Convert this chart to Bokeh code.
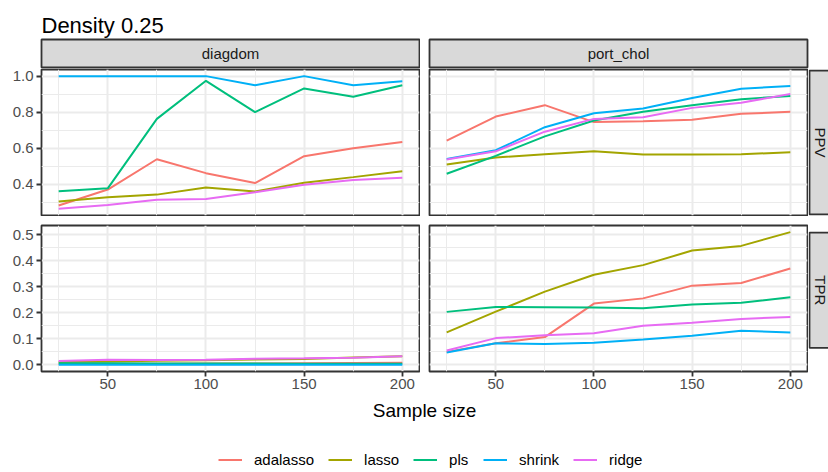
import math
from bokeh.plotting import figure
from bokeh.layouts import column, row
from bokeh.models import Range1d, FixedTicker, Legend, LegendItem, PrintfTickFormatter
from bokeh.core.properties import value
from bokeh.embed import file_html
from bokeh.resources import INLINE

# ---------------- data ----------------
sample_size = [25, 50, 75, 100, 125, 150, 175, 200]
methods = ["adalasso", "lasso", "pls", "shrink", "ridge"]
colors = ["#F8766D", "#A3A500", "#00BF7D", "#00B0F6", "#E76BF3"]
facets = ["diagdom", "port_chol"]
metrics = ["PPV", "TPR"]
x_ticks = [50, 100, 150, 200]
ppv_ticks = [0.4, 0.6, 0.8, 1.0]
tpr_ticks = [0.0, 0.1, 0.2, 0.3, 0.4, 0.5]

ppv_diagdom_adalasso = [0.283, 0.371, 0.539, 0.462, 0.407, 0.556, 0.600, 0.635]
ppv_diagdom_lasso = [0.305, 0.328, 0.343, 0.382, 0.360, 0.409, 0.440, 0.472]
ppv_diagdom_pls = [0.361, 0.378, 0.763, 0.974, 0.800, 0.932, 0.886, 0.949]
ppv_diagdom_shrink = [1.000, 1.000, 1.000, 1.000, 0.949, 1.000, 0.949, 0.972]
ppv_diagdom_ridge = [0.264, 0.286, 0.314, 0.319, 0.356, 0.398, 0.424, 0.437]

ppv_portchol_adalasso = [0.642, 0.776, 0.839, 0.745, 0.750, 0.758, 0.791, 0.802]
ppv_portchol_lasso = [0.510, 0.549, 0.567, 0.583, 0.565, 0.565, 0.567, 0.578]
ppv_portchol_pls = [0.459, 0.558, 0.666, 0.754, 0.802, 0.839, 0.872, 0.890]
ppv_portchol_shrink = [0.541, 0.589, 0.717, 0.794, 0.820, 0.879, 0.930, 0.945]
ppv_portchol_ridge = [0.538, 0.583, 0.692, 0.763, 0.772, 0.824, 0.853, 0.901]

tpr_diagdom_adalasso = [0.003, 0.004, 0.004, 0.005, 0.005, 0.006, 0.007, 0.008]
tpr_diagdom_lasso = [0.011, 0.013, 0.016, 0.018, 0.021, 0.023, 0.028, 0.033]
tpr_diagdom_pls = [0.006, 0.006, 0.005, 0.005, 0.005, 0.004, 0.004, 0.004]
tpr_diagdom_shrink = [0.000, 0.000, 0.000, 0.000, 0.000, 0.000, 0.000, 0.000]
tpr_diagdom_ridge = [0.015, 0.020, 0.019, 0.020, 0.024, 0.025, 0.027, 0.033]

tpr_portchol_adalasso = [0.050, 0.083, 0.107, 0.236, 0.256, 0.305, 0.315, 0.371]
tpr_portchol_lasso = [0.125, 0.205, 0.282, 0.347, 0.384, 0.440, 0.458, 0.511]
tpr_portchol_pls = [0.204, 0.223, 0.222, 0.221, 0.218, 0.232, 0.239, 0.260]
tpr_portchol_shrink = [0.048, 0.083, 0.080, 0.085, 0.098, 0.112, 0.131, 0.125]
tpr_portchol_ridge = [0.055, 0.103, 0.114, 0.122, 0.151, 0.162, 0.177, 0.184]

series = {
    ("PPV", "diagdom"): [ppv_diagdom_adalasso, ppv_diagdom_lasso, ppv_diagdom_pls, ppv_diagdom_shrink, ppv_diagdom_ridge],
    ("PPV", "port_chol"): [ppv_portchol_adalasso, ppv_portchol_lasso, ppv_portchol_pls, ppv_portchol_shrink, ppv_portchol_ridge],
    ("TPR", "diagdom"): [tpr_diagdom_adalasso, tpr_diagdom_lasso, tpr_diagdom_pls, tpr_diagdom_shrink, tpr_diagdom_ridge],
    ("TPR", "port_chol"): [tpr_portchol_adalasso, tpr_portchol_lasso, tpr_portchol_pls, tpr_portchol_shrink, tpr_portchol_ridge],
}

# ---------------- style / layout ----------------
FONT = "Liberation Sans"
BORDER = "#333333"
GRID = "#EBEBEB"
STRIP = "#D9D9D9"
FW = 378          # panel frame width
FH = 146          # panel frame height
W = 828           # total width
SW = 20           # visible width of the right-hand strips


def expanded(vals, frac=0.05):
    lo, hi = min(vals), max(vals)
    d = (hi - lo) * frac
    return lo - d, hi + d


x_range = Range1d(*expanded(sample_size))
y_ranges = {}
for m in metrics:
    allv = [v for f in facets for s in series[(m, f)] for v in s]
    y_ranges[m] = Range1d(*expanded(allv))

minor_of = {
    "PPV": [0.3, 0.5, 0.7, 0.9],
    "TPR": [0.05, 0.15, 0.25, 0.35, 0.45],
}
major_of = {"PPV": ppv_ticks, "TPR": tpr_ticks}


def blank(width, height, xr, yr):
    p = figure(width=width, height=height, x_range=xr, y_range=yr,
               output_backend="svg", toolbar_location=None,
               x_axis_location=None, y_axis_location=None,
               min_border_left=0, min_border_right=0, min_border_top=0, min_border_bottom=0)
    p.grid.visible = False
    p.outline_line_color = None
    p.background_fill_color = "white"
    p.border_fill_color = "white"
    return p


def panel(metric, facet, left_axis, bottom_axis, mb):
    p = figure(frame_width=FW, frame_height=FH, x_range=x_range, y_range=y_ranges[metric],
               output_backend="svg", toolbar_location=None,
               x_axis_location="below" if bottom_axis else None,
               y_axis_location="left" if left_axis else None,
               min_border_left=mb[0], min_border_right=mb[1],
               min_border_top=mb[2], min_border_bottom=mb[3])
    p.background_fill_color = "white"
    p.border_fill_color = "white"
    p.outline_line_color = BORDER
    p.outline_line_width = 1.8
    p.xgrid.ticker = FixedTicker(ticks=x_ticks, minor_ticks=[25, 75, 125, 175])
    p.ygrid.ticker = FixedTicker(ticks=major_of[metric], minor_ticks=minor_of[metric])
    for g in (p.xgrid, p.ygrid):
        g.grid_line_color = GRID
        g.grid_line_width = 2
        g.minor_grid_line_color = GRID
        g.minor_grid_line_width = 1
    axes = []
    if bottom_axis:
        p.xaxis.ticker = FixedTicker(ticks=x_ticks)
        p.xaxis.major_label_standoff = 2
        axes.append(p.xaxis[0])
    if left_axis:
        p.yaxis.ticker = FixedTicker(ticks=major_of[metric])
        p.yaxis.formatter = PrintfTickFormatter(format="%.1f")
        p.yaxis.major_label_standoff = 3
        axes.append(p.yaxis[0])
    for ax in axes:
        ax.axis_line_color = None
        ax.major_tick_in = 0
        ax.major_tick_out = 5
        ax.major_tick_line_color = BORDER
        ax.major_tick_line_width = 1.8
        ax.minor_tick_line_color = None
        ax.major_label_text_font = FONT
        ax.major_label_text_font_size = "15px"
        ax.major_label_text_color = "#4D4D4D"
    for vals, c in zip(series[(metric, facet)], colors):
        p.line(sample_size, vals, line_color=c, line_width=2)
    return p


def strip_h(label, mb_left, mb_right):
    p = figure(frame_width=FW, frame_height=28, x_range=Range1d(0, 1), y_range=Range1d(0, 1),
               output_backend="svg", toolbar_location=None,
               x_axis_location=None, y_axis_location=None,
               min_border_left=mb_left, min_border_right=mb_right,
               min_border_top=1, min_border_bottom=1)
    p.grid.visible = False
    p.background_fill_color = STRIP
    p.border_fill_color = "white"
    p.outline_line_color = BORDER
    p.outline_line_width = 1.8
    p.text(x=[0.5], y=[0.5], text=[label], text_align="center", text_baseline="middle",
           text_font=value(FONT), text_font_size=value("15px"), text_color="#1A1A1A")
    return p


def strip_v(label, height, box_bottom, box_top):
    # right-hand strip; it runs past the right edge of the page, as in the reference
    p = blank(SW, height, Range1d(0, SW), Range1d(0, height))
    p.quad(left=[1], right=[SW + 20], bottom=[box_bottom], top=[box_top],
           fill_color=STRIP, line_color=BORDER, line_width=1.8)
    p.text(x=[11.5], y=[(box_bottom + box_top) / 2], text=[label], text_align="center",
           text_baseline="middle", angle=-math.pi / 2,
           text_font=value(FONT), text_font_size=value("15px"), text_color="#1A1A1A")
    return p


LEFT = 41
GAP = 9
TOP_H = FH + 2
BOT_H = 9 + FH + 30

# title
title_fig = blank(W, 38, Range1d(0, W), Range1d(0, 38))
title_fig.text(x=[LEFT], y=[13], text=["Density 0.25"], text_align="left", text_baseline="alphabetic",
               text_font=value(FONT), text_font_size=value("22px"), text_color="black")

# strips
strip_row = row(strip_h("diagdom", LEFT, 1), strip_h("port_chol", GAP, 1 + SW), spacing=0)

# panels
top_row = row(panel("PPV", "diagdom", True, False, (LEFT, 1, 1, 1)),
              panel("PPV", "port_chol", False, False, (GAP, 1, 1, 1)),
              strip_v("PPV", TOP_H, 1, TOP_H - 1), spacing=0)
bot_row = row(panel("TPR", "diagdom", True, True, (LEFT, 1, 9, 30)),
              panel("TPR", "port_chol", False, True, (GAP, 1, 9, 30)),
              strip_v("TPR", BOT_H, 30, 30 + FH), spacing=0)

# axis title + legend
LEG_H = 472 - 38 - 30 - TOP_H - BOT_H
leg_fig = blank(W, LEG_H, Range1d(0, W), Range1d(0, LEG_H))
center_x = (LEFT + (LEFT + FW + 1 + GAP + FW)) / 2
leg_fig.text(x=[center_x], y=[LEG_H - 9], text=["Sample size"], text_align="center",
             text_baseline="alphabetic", text_font=value(FONT), text_font_size=value("19px"),
             text_color="black")
items = []
for name, c, vals in zip(methods, colors, series[("PPV", "diagdom")]):
    r = leg_fig.line(sample_size, vals, line_color=c, line_width=2, visible=False)
    items.append(LegendItem(label=name, renderers=[r]))
legend = Legend(items=items, orientation="horizontal", location=(218, 4),
                glyph_width=24, glyph_height=15, label_standoff=12, spacing=14,
                padding=0, margin=0, border_line_color=None, background_fill_alpha=0,
                inactive_fill_alpha=0,
                label_text_font=FONT, label_text_font_size="15px", label_text_color="black",
                label_height=15)
leg_fig.add_layout(legend, "center")

layout = column(title_fig, strip_row, top_row, bot_row, leg_fig, spacing=0)

open("out.html", "w").write(file_html(layout, INLINE))
